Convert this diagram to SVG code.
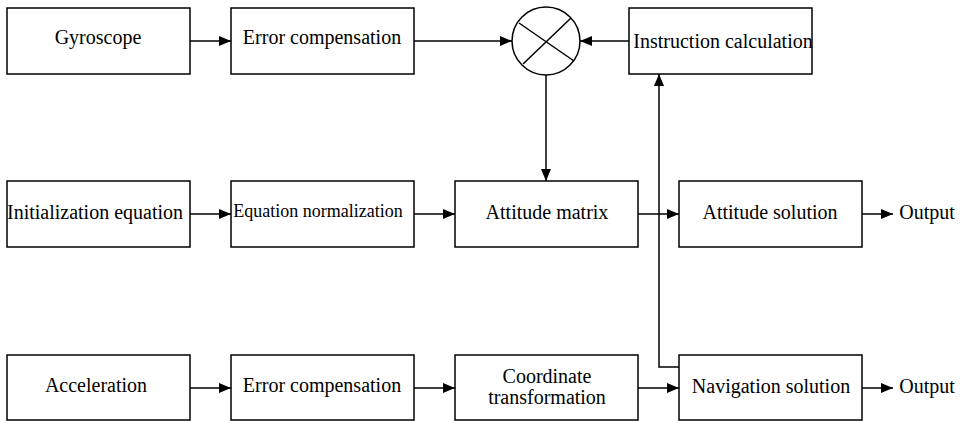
<svg xmlns="http://www.w3.org/2000/svg" width="961" height="421" viewBox="0 0 961 421">
<style>
.box{fill:#fff;stroke:#000;stroke-width:1.5}
.t{font-family:'Liberation Serif','Times New Roman',Times,'DejaVu Serif',serif;font-size:20px;fill:#000;text-anchor:middle}
.c{fill:none;stroke:#000;stroke-width:1.5}
</style>
<defs>
<marker id="ah" markerWidth="12" markerHeight="10" refX="12" refY="5" orient="auto" markerUnits="userSpaceOnUse">
<path d="M0,0 L12,5 L0,10 Z" fill="#000"/>
</marker>
</defs>
<rect width="961" height="421" fill="#fff"/>
<g id="connectors">
<line class="c" x1="190" y1="41" x2="231" y2="41" marker-end="url(#ah)"/>
<line class="c" x1="414" y1="41" x2="512" y2="41" marker-end="url(#ah)"/>
<line class="c" x1="629" y1="41" x2="580" y2="41" marker-end="url(#ah)"/>
<line class="c" x1="546" y1="75" x2="546" y2="181" marker-end="url(#ah)"/>
<polyline class="c" points="679,367 659,367 659,74" marker-end="url(#ah)"/>
<line class="c" x1="190" y1="214" x2="231" y2="214" marker-end="url(#ah)"/>
<line class="c" x1="414" y1="214" x2="455" y2="214" marker-end="url(#ah)"/>
<line class="c" x1="638" y1="214" x2="679" y2="214" marker-end="url(#ah)"/>
<line class="c" x1="862" y1="214" x2="893" y2="214" marker-end="url(#ah)"/>
<line class="c" x1="190" y1="388" x2="231" y2="388" marker-end="url(#ah)"/>
<line class="c" x1="414" y1="388" x2="455" y2="388" marker-end="url(#ah)"/>
<line class="c" x1="638" y1="388" x2="679" y2="388" marker-end="url(#ah)"/>
<line class="c" x1="862" y1="388" x2="893" y2="388" marker-end="url(#ah)"/>
</g>
<g id="gyroscope"><rect class="box" x="7" y="8" width="183" height="66"/><text class="t" x="98" y="44">Gyroscope</text></g>
<g id="error-comp-1"><rect class="box" x="231" y="8" width="183" height="66"/><text class="t" x="322" y="44">Error compensation</text></g>
<g id="multiplier"><circle class="c" cx="546" cy="41" r="34"/><line class="c" x1="519" y1="23" x2="574" y2="61"/><line class="c" x1="523" y1="64" x2="571" y2="18"/></g>
<g id="instruction-calc"><rect class="box" x="629" y="8" width="183" height="66"/><text class="t" x="723" y="48">Instruction calculation</text></g>
<g id="init-eq"><rect class="box" x="7" y="181" width="183" height="66"/><text class="t" x="95" y="219">Initialization equation</text></g>
<g id="eq-norm"><rect class="box" x="231" y="181" width="183" height="66"/><text class="t" x="318" y="217" style="font-size:18px">Equation normalization</text></g>
<g id="attitude-matrix"><rect class="box" x="455" y="181" width="183" height="66"/><text class="t" x="547" y="219">Attitude matrix</text></g>
<g id="attitude-solution"><rect class="box" x="679" y="181" width="183" height="66"/><text class="t" x="770" y="219">Attitude solution</text></g>
<g id="output-1"><text class="t" x="927" y="219">Output</text></g>
<g id="acceleration"><rect class="box" x="7" y="355" width="183" height="65"/><text class="t" x="96" y="392">Acceleration</text></g>
<g id="error-comp-2"><rect class="box" x="231" y="355" width="183" height="65"/><text class="t" x="322" y="392">Error compensation</text></g>
<g id="coord-trans"><rect class="box" x="455" y="355" width="183" height="65"/><text class="t" x="547" y="383">Coordinate</text><text class="t" x="547" y="404">transformation</text></g>
<g id="navigation-solution"><rect class="box" x="679" y="355" width="183" height="65"/><text class="t" x="771" y="393">Navigation solution</text></g>
<g id="output-2"><text class="t" x="927" y="393">Output</text></g>
</svg>
